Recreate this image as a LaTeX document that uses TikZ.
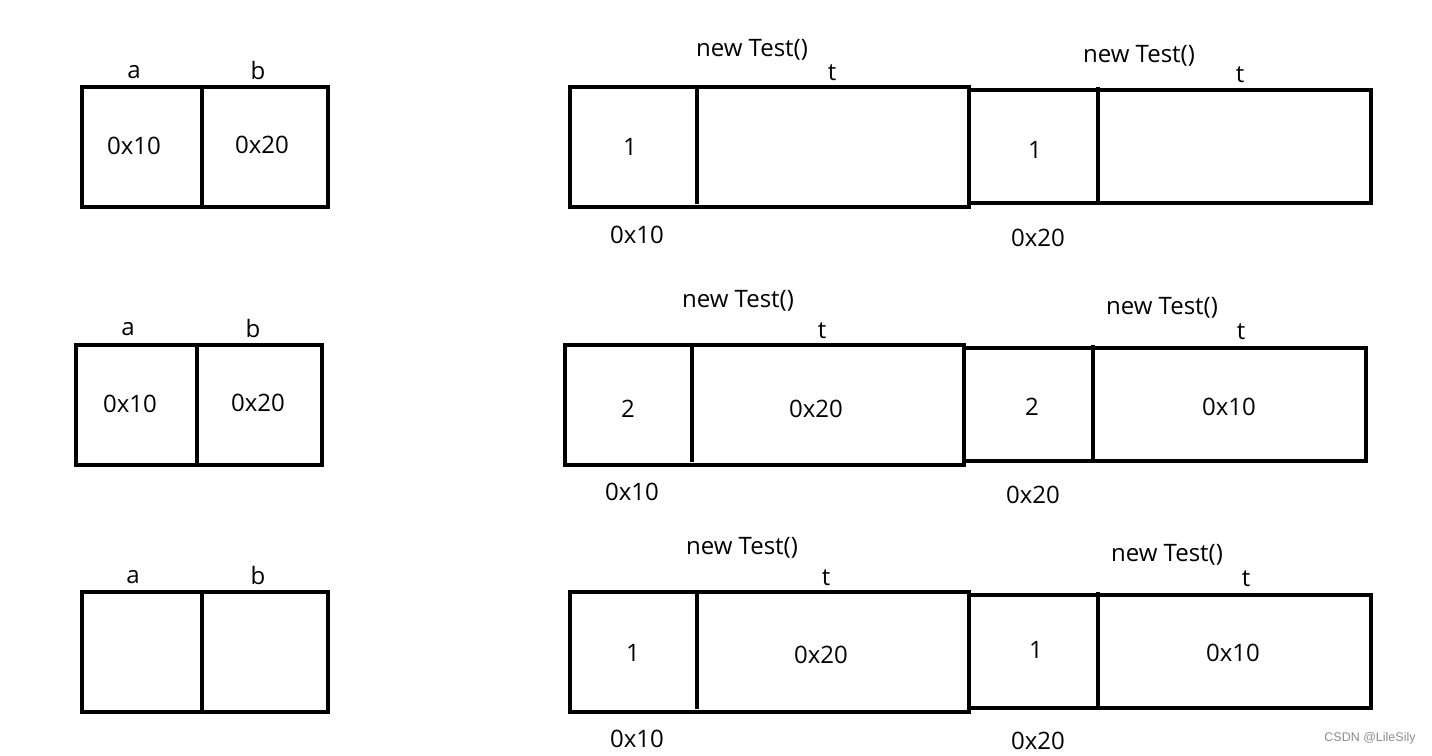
\documentclass[tikz,border=0pt]{standalone}
\usepackage{fontspec}
\setmainfont{Open Sans}
\newfontfamily\wmfont{Liberation Sans}
\begin{document}
\begin{tikzpicture}[x=1pt,y=-1pt,
  box/.style={line width=3.5pt},
  lbl/.style={font=\fontsize{24}{28}\selectfont, inner sep=0pt, anchor=center},
  wm/.style={font=\wmfont\fontsize{12.5}{14}\selectfont, text=black!45, inner sep=0pt, anchor=center}]
\useasboundingbox (0,0) rectangle (1432,755);

% ---------- Row 1 ----------
\draw[box] (82,87) rectangle (328,207);
\draw[box] (202,87) -- (202,207);
\node[lbl] (r1a) at (134,72) {a};
\node[lbl] (r1b) at (258,70) {b};
\node[lbl] (r1av) at (134,146) {0x10};
\node[lbl] (r1bv) at (262,145) {0x20};

\draw[box] (570,87) rectangle (969,207);
\draw[box] (697,87) -- (697,204);
\draw[box] (969,90) -- (1371,90) -- (1371,203) -- (969,203);
\draw[box] (1098,87) -- (1098,203);
\node[lbl] (r1new1) at (752,50) {new Test()};
\node[lbl] (r1t1) at (832,73) {t};
\node[lbl] (r1n1) at (630,147) {1};
\node[lbl] (r1ad1) at (637,235) {0x10};
\node[lbl] (r1new2) at (1139,56) {new Test()};
\node[lbl] (r1t2) at (1240,75) {t};
\node[lbl] (r1n2) at (1035,150) {1};
\node[lbl] (r1ad2) at (1038,238) {0x20};

% ---------- Row 2 ----------
\draw[box] (76,345) rectangle (322,465);
\draw[box] (197,345) -- (197,465);
\node[lbl] (r2a) at (128,329) {a};
\node[lbl] (r2b) at (253,328) {b};
\node[lbl] (r2av) at (130,404) {0x10};
\node[lbl] (r2bv) at (258,403) {0x20};

\draw[box] (565,345) rectangle (964,465);
\draw[box] (692,345) -- (692,462);
\draw[box] (964,348) -- (1366,348) -- (1366,461) -- (964,461);
\draw[box] (1093,345) -- (1093,461);
\node[lbl] (r2new1) at (738,301) {new Test()};
\node[lbl] (r2t1) at (822,331) {t};
\node[lbl] (r2n1) at (628,409) {2};
\node[lbl] (r2v1) at (816,409) {0x20};
\node[lbl] (r2ad1) at (632,492) {0x10};
\node[lbl] (r2new2) at (1162,308) {new Test()};
\node[lbl] (r2t2) at (1241,332) {t};
\node[lbl] (r2n2) at (1032,407) {2};
\node[lbl] (r2v2) at (1229,407) {0x10};
\node[lbl] (r2ad2) at (1033,495) {0x20};

% ---------- Row 3 ----------
\draw[box] (82,592) rectangle (328,712);
\draw[box] (202,592) -- (202,712);
\node[lbl] (r3a) at (133,577) {a};
\node[lbl] (r3b) at (258,575) {b};

\draw[box] (570,592) rectangle (969,712);
\draw[box] (697,592) -- (697,709);
\draw[box] (969,595) -- (1371,595) -- (1371,708) -- (969,708);
\draw[box] (1098,592) -- (1098,708);
\node[lbl] (r3new1) at (742,548) {new Test()};
\node[lbl] (r3t1) at (826,578) {t};
\node[lbl] (r3n1) at (633,653) {1};
\node[lbl] (r3v1) at (821,655) {0x20};
\node[lbl] (r3ad1) at (637,739) {0x10};
\node[lbl] (r3new2) at (1167,555) {new Test()};
\node[lbl] (r3t2) at (1246,579) {t};
\node[lbl] (r3n2) at (1036,650) {1};
\node[lbl] (r3v2) at (1233,653) {0x10};
\node[lbl] (r3ad2) at (1038,741) {0x20};

\node[wm] (wmark) at (1370,738) {CSDN @LileSily};
\end{tikzpicture}
\end{document}
